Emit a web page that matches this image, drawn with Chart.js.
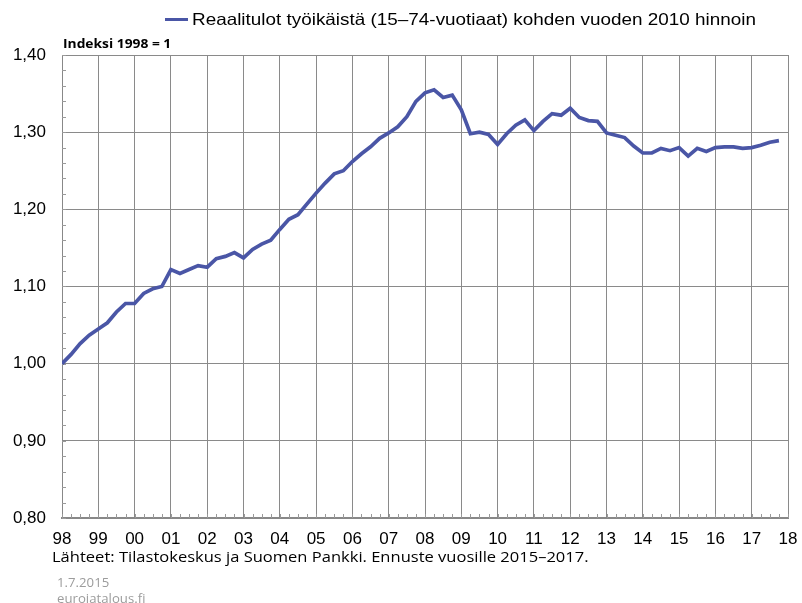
<!DOCTYPE html>
<html>
<head>
<meta charset="utf-8">
<script src="https://cdn.jsdelivr.net/npm/chart.js@4"></script>
<style>
  html, body { margin: 0; padding: 0; background: #fff; overflow: hidden; }
  #wrap { position: relative; width: 802px; height: 603px; overflow: hidden; }
  #chart { position: absolute; left: 0; top: 0; }
  .txt { position: absolute; white-space: nowrap; transform-origin: 0 0; }
  #legend { left: 165px; top: 10px; font: 16.5px "Liberation Sans", Arial, sans-serif; color: #000; }
  #legend .swatch { display: inline-block; width: 23px; height: 3px; background: #4a56a6; vertical-align: middle; margin-right: 4px; position: relative; top: -1px; }
  #legendText { display: inline-block; transform-origin: 0 50%; transform: scaleX(1.145); }
  #index { left: 63px; top: 36px; font: bold 11.5px "Open Sans", sans-serif; color: #000; transform: scaleX(1.2); }
  #source { left: 52px; top: 547px; font: 14px "Open Sans", sans-serif; color: #000; transform: scaleX(1.18); }
  #date { left: 57px; top: 574px; font: 12px "Open Sans", sans-serif; color: #9c9c9c; transform: scaleX(1.1); }
  #site { left: 57px; top: 590px; font: 12px "Open Sans", sans-serif; color: #9c9c9c; transform: scaleX(1.1); }
</style>
</head>
<body>
<div id="wrap">
  <canvas id="chart" width="802" height="603"></canvas>
  <div class="txt" id="legend"><span class="swatch"></span><span id="legendText">Reaalitulot työikäistä (15–74-vuotiaat) kohden vuoden 2010 hinnoin</span></div>
  <div class="txt" id="index">Indeksi 1998 = 1</div>
  <div class="txt" id="source">Lähteet: Tilastokeskus ja Suomen Pankki. Ennuste vuosille 2015–2017.</div>
  <div class="txt" id="date">1.7.2015</div>
  <div class="txt" id="site">euroiatalous.fi</div>
</div>
<script>
// quarterly index, 1998Q1 ... 2017Q4 (1998 = 1)
const seriesName = 'Reaalitulot työikäistä (15–74-vuotiaat) kohden vuoden 2010 hinnoin';
const values = [
  1.000, 1.012, 1.026, 1.037,   // 1998
  1.045, 1.053, 1.067, 1.078,   // 1999
  1.078, 1.091, 1.097, 1.100,   // 2000
  1.122, 1.117, 1.122, 1.127,   // 2001
  1.125, 1.136, 1.139, 1.144,   // 2002
  1.137, 1.148, 1.155, 1.160,   // 2003
  1.174, 1.187, 1.193, 1.207,   // 2004
  1.221, 1.234, 1.246, 1.250,   // 2005
  1.262, 1.272, 1.281, 1.292,   // 2006
  1.299, 1.307, 1.320, 1.340,   // 2007
  1.351, 1.355, 1.345, 1.348,   // 2008
  1.329, 1.298, 1.300, 1.297,   // 2009
  1.284, 1.298, 1.309, 1.316,   // 2010
  1.302, 1.314, 1.324, 1.322,   // 2011
  1.331, 1.319, 1.315, 1.314,   // 2012
  1.299, 1.296, 1.293, 1.282,   // 2013
  1.273, 1.273, 1.279, 1.276,   // 2014
  1.280, 1.269, 1.279, 1.275,   // 2015
  1.280, 1.281, 1.281, 1.279,   // 2016
  1.280, 1.283, 1.287, 1.289    // 2017
];
const yearLabels = ['98','99','00','01','02','03','04','05','06','07','08',
                    '09','10','11','12','13','14','15','16','17','18'];
const yMin = 0.8, yMax = 1.4, yStep = 0.1, yMinorStep = 0.02;

const lineColor = '#4a56a6';
const gridColor = '#8a8a8a';

// small inward tick marks: every quarter on x, every 0.02 on y
const minorTicks = {
  id: 'minorTicks',
  beforeDatasetsDraw(chart) {
    const { ctx, scales: { x, y }, chartArea } = chart;
    ctx.save();
    ctx.strokeStyle = '#9a9a9a';
    ctx.lineWidth = 1;
    ctx.beginPath();
    for (let q = 0; q <= values.length; q++) {
      const px = Math.round(x.getPixelForValue(q)) + 0.5;
      ctx.moveTo(px, chartArea.bottom);
      ctx.lineTo(px, chartArea.bottom - 4);
    }
    const n = Math.round((yMax - yMin) / yMinorStep);
    for (let i = 0; i <= n; i++) {
      const py = Math.round(y.getPixelForValue(yMin + i * yMinorStep)) + 0.5;
      ctx.moveTo(chartArea.left, py);
      ctx.lineTo(chartArea.left + 4, py);
    }
    ctx.stroke();
    ctx.restore();
  }
};

new Chart(document.getElementById('chart'), {
  type: 'line',
  data: {
    datasets: [{
      label: seriesName,
      data: values.map((v, i) => ({ x: i, y: v })),
      borderColor: lineColor,
      borderWidth: 3.7,
      pointRadius: 0,
      tension: 0,
      fill: false
    }]
  },
  options: {
    responsive: false,
    animation: false,
    layout: { padding: { left: 12, right: 14, top: 55, bottom: 0 } },
    plugins: { legend: { display: false }, tooltip: { enabled: false } },
    scales: {
      x: {
        type: 'linear',
        min: 0,
        max: (yearLabels.length - 1) * 4,
        afterBuildTicks: (scale) => { scale.ticks = yearLabels.map((_, i) => ({ value: i * 4 })); },
        afterFit: (scale) => {
          scale.height = 85;
          scale.paddingLeft = 0;
          scale.paddingRight = 0;
        },
        ticks: {
          autoSkip: false,
          maxRotation: 0,
          padding: 11,
          color: '#000',
          font: { family: '"Liberation Sans", Arial, sans-serif', size: 17 },
          callback: (v) => yearLabels[Math.round(v / 4)]
        },
        grid: { color: gridColor, lineWidth: 1, drawTicks: false },
        border: { color: '#888', width: 2 }
      },
      y: {
        min: yMin,
        max: yMax,
        afterFit: (scale) => {
          scale.width = 50;
          scale.paddingTop = 0;
          scale.paddingBottom = 0;
        },
        ticks: {
          stepSize: yStep,
          padding: 16,
          color: '#000',
          font: { family: '"Liberation Sans", Arial, sans-serif', size: 17 },
          callback: (v) => v.toFixed(2).replace('.', ',')
        },
        grid: { color: gridColor, lineWidth: 1, drawTicks: false },
        border: { color: '#888', width: 1 }
      }
    }
  },
  plugins: [minorTicks]
});
</script>
</body>
</html>
